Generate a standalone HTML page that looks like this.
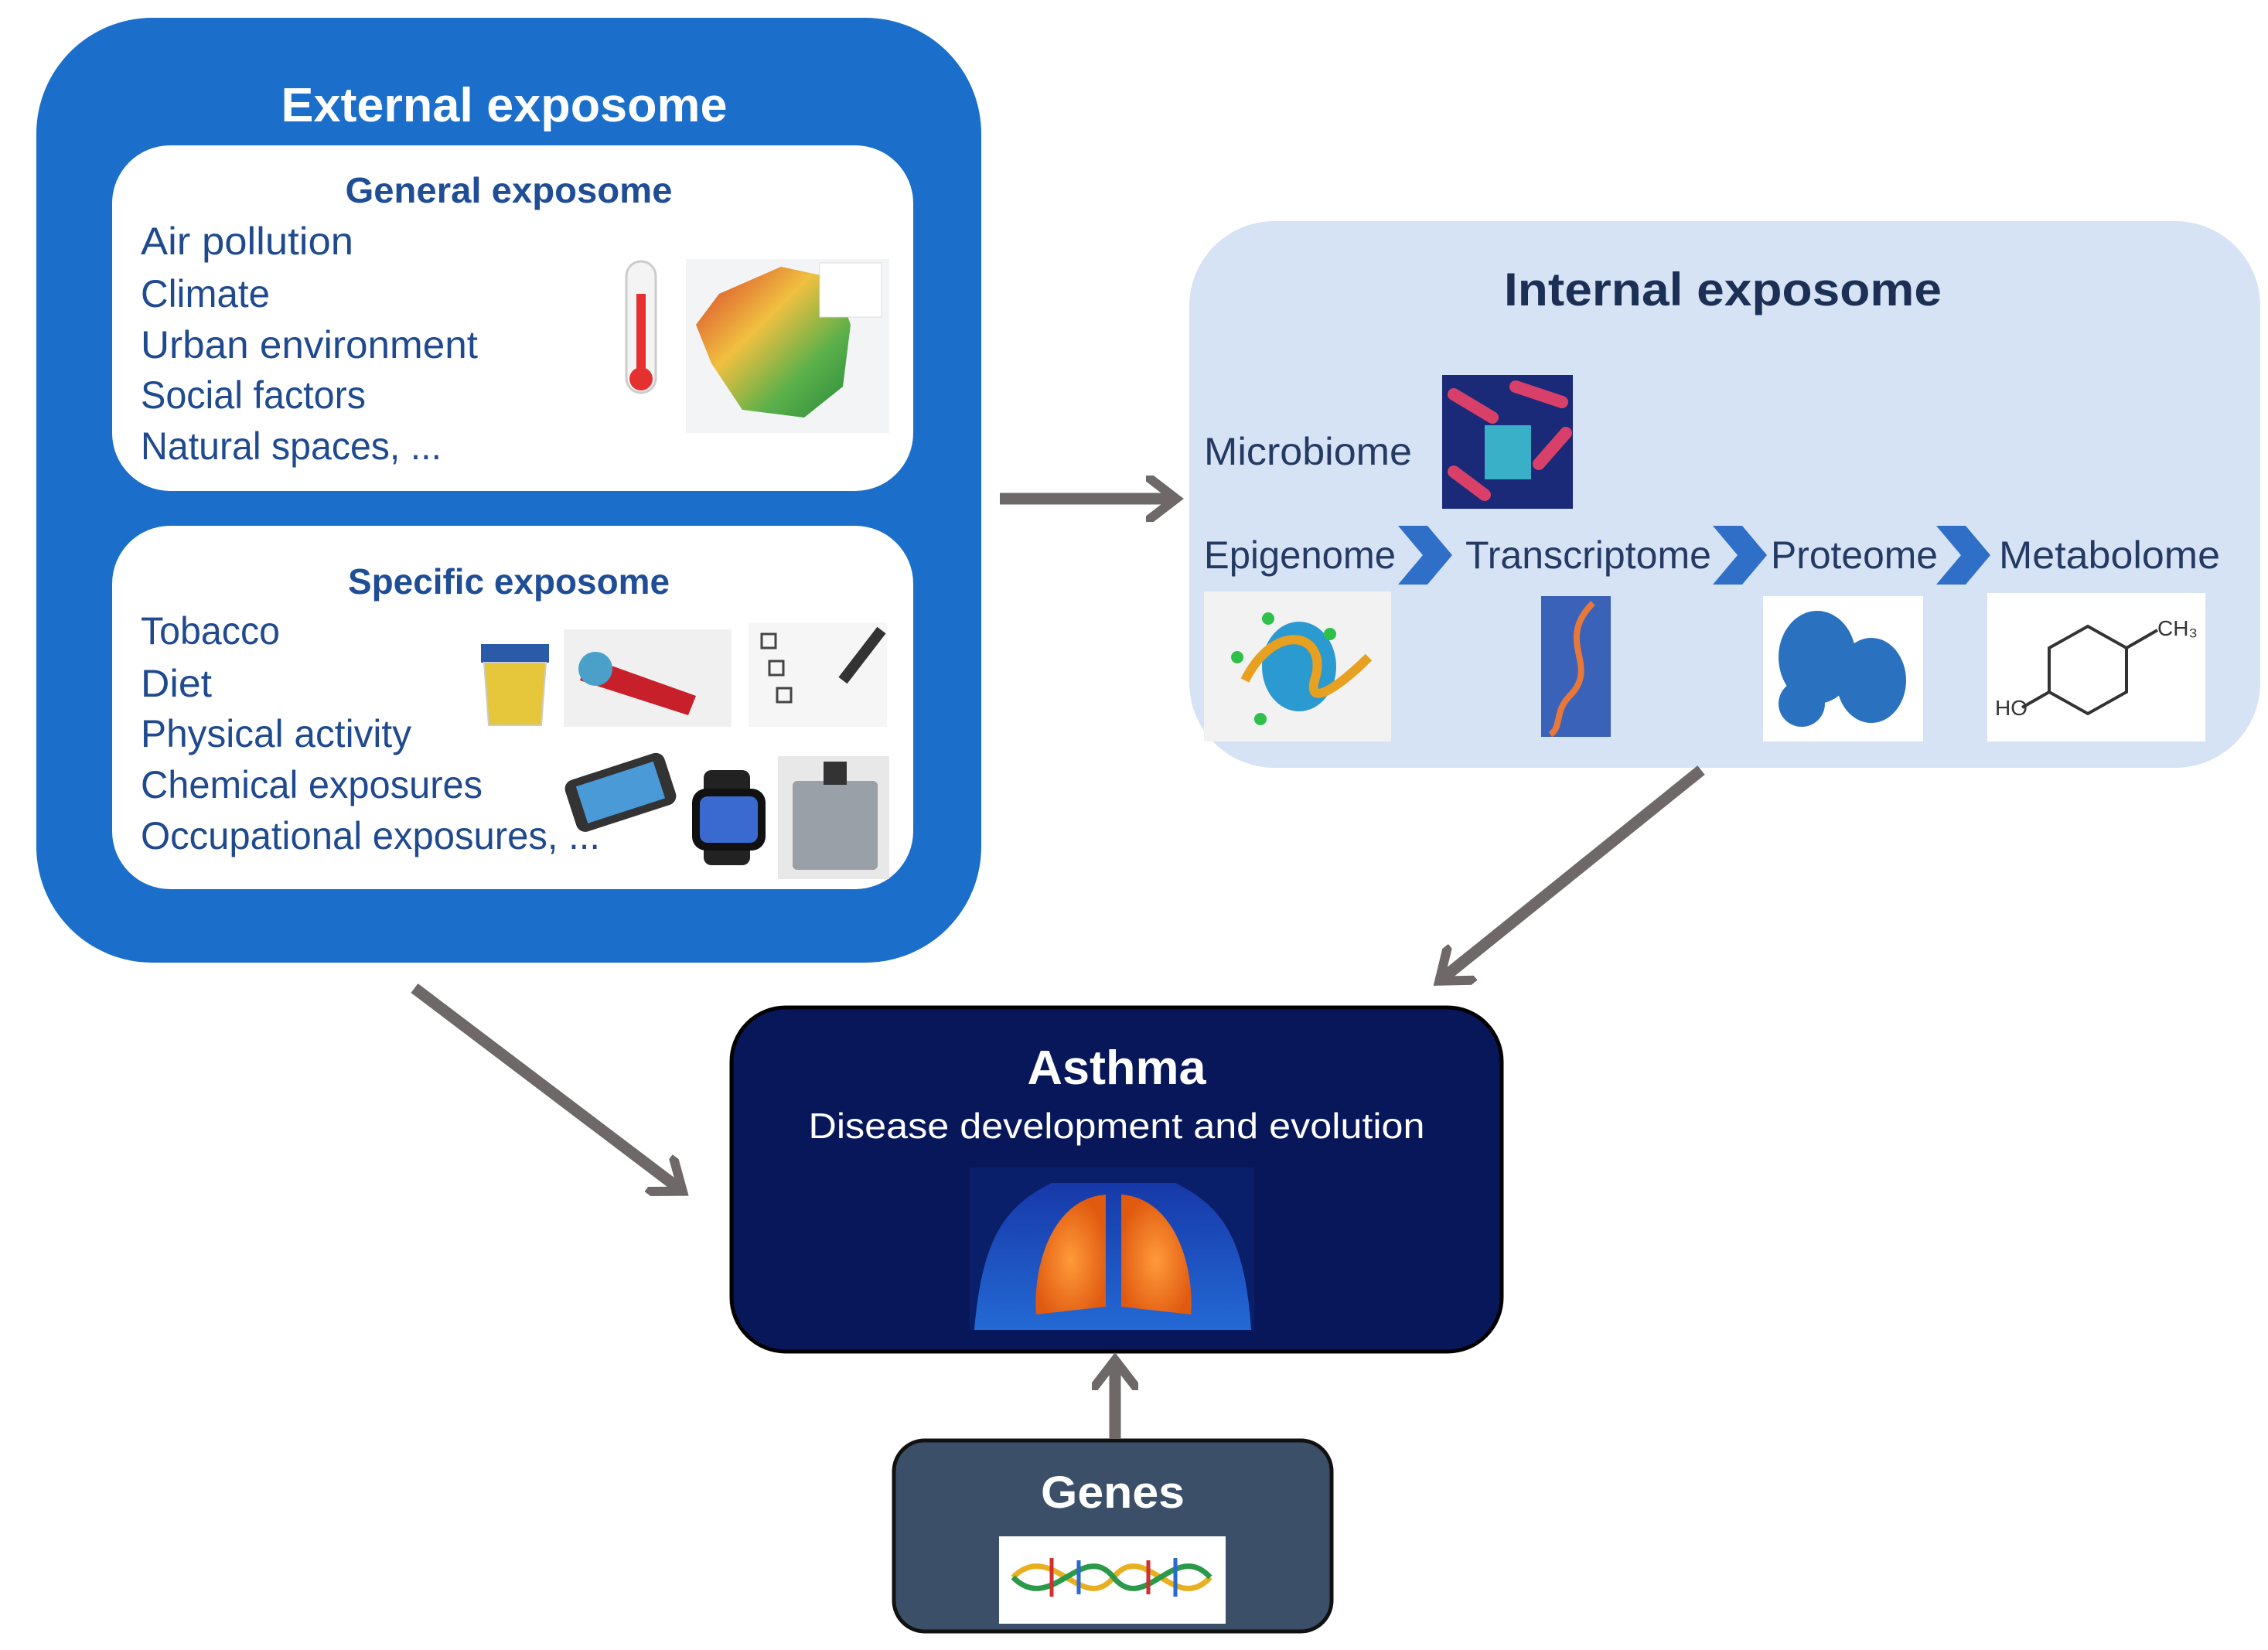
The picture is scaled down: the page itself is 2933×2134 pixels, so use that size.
<!DOCTYPE html>
<html><head><meta charset="utf-8"><style>
html,body{margin:0;padding:0;background:#fff;}
svg{display:block;font-family:"Liberation Sans",sans-serif;}
</style></head><body>
<svg width="2933" height="2134" viewBox="0 0 2933 2134" xmlns="http://www.w3.org/2000/svg">
<defs>
<marker id="ah" markerWidth="4" markerHeight="4" refX="2.2" refY="2" orient="auto" markerUnits="strokeWidth">
<path d="M0,0 L2.6,2 L0,4" fill="none" stroke="#6e6869" stroke-width="0.8"/>
</marker>
<radialGradient id="lung" cx="50%" cy="55%" r="55%"><stop offset="0" stop-color="#ff9a3a"/><stop offset="1" stop-color="#e05a10"/></radialGradient>
<linearGradient id="body" x1="0" y1="0" x2="0" y2="1"><stop offset="0" stop-color="#1a3fb8"/><stop offset="1" stop-color="#2a7cf0"/></linearGradient>
<linearGradient id="map" x1="0" y1="0" x2="1" y2="1"><stop offset="0" stop-color="#d83a2a"/><stop offset="0.4" stop-color="#f0c040"/><stop offset="0.7" stop-color="#5ab04a"/><stop offset="1" stop-color="#2a8a3a"/></linearGradient>
</defs>

<!-- External exposome -->
<rect x="47" y="23" width="1222" height="1222" rx="150" fill="#1b6fca"/>
<text x="652" y="157" text-anchor="middle" font-size="62" font-weight="bold" fill="#fff" textLength="577" lengthAdjust="spacingAndGlyphs">External exposome</text>

<rect x="145" y="188" width="1036" height="447" rx="75" fill="#fff"/>
<text x="658" y="262" text-anchor="middle" font-size="46" font-weight="bold" fill="#1f4e96" textLength="423" lengthAdjust="spacingAndGlyphs">General exposome</text>
<g font-size="50" fill="#1f4a8f">
<text x="182" y="329" textLength="275" lengthAdjust="spacingAndGlyphs">Air pollution</text>
<text x="182" y="397" textLength="167" lengthAdjust="spacingAndGlyphs">Climate</text>
<text x="182" y="463" textLength="436" lengthAdjust="spacingAndGlyphs">Urban environment</text>
<text x="182" y="528" textLength="291" lengthAdjust="spacingAndGlyphs">Social factors</text>
<text x="182" y="594" textLength="389" lengthAdjust="spacingAndGlyphs">Natural spaces, ...</text>
</g>
<!-- thermometer -->
<rect x="810" y="338" width="38" height="170" rx="19" fill="#f4f4f4" stroke="#ccc" stroke-width="3"/>
<rect x="823" y="380" width="12" height="110" fill="#e53030"/>
<circle cx="829" cy="490" r="15" fill="#e53030"/>
<!-- map -->
<rect x="887" y="335" width="263" height="225" fill="#f2f4f6"/>
<path d="M930,380 L1010,345 L1080,360 L1100,420 L1090,500 L1040,540 L960,530 L920,470 L900,420 Z" fill="url(#map)"/>
<rect x="1060" y="340" width="80" height="70" fill="#fff" stroke="#ddd"/>

<rect x="145" y="680" width="1036" height="470" rx="75" fill="#fff"/>
<text x="658" y="768" text-anchor="middle" font-size="46" font-weight="bold" fill="#1f4e96" textLength="416" lengthAdjust="spacingAndGlyphs">Specific exposome</text>
<g font-size="50" fill="#1f4a8f">
<text x="182" y="833" textLength="180" lengthAdjust="spacingAndGlyphs">Tobacco</text>
<text x="182" y="901" textLength="92" lengthAdjust="spacingAndGlyphs">Diet</text>
<text x="182" y="966" textLength="350" lengthAdjust="spacingAndGlyphs">Physical activity</text>
<text x="182" y="1032" textLength="442" lengthAdjust="spacingAndGlyphs">Chemical exposures</text>
<text x="182" y="1098" textLength="594" lengthAdjust="spacingAndGlyphs">Occupational exposures, ...</text>
</g>
<!-- cup -->
<rect x="622" y="833" width="88" height="24" fill="#2a5aa8"/>
<path d="M626,857 L706,857 L700,938 L632,938 Z" fill="#e6c63a" stroke="#ccc" stroke-width="2"/>
<!-- tubes -->
<rect x="729" y="814" width="217" height="126" fill="#f0f0f0"/>
<path d="M760,850 L900,900 L890,925 L750,880 Z" fill="#c8202a"/>
<circle cx="770" cy="865" r="22" fill="#4aa0c8"/>
<!-- checklist -->
<rect x="968" y="805" width="179" height="135" fill="#f6f6f6"/>
<g stroke="#444" stroke-width="3" fill="none"><rect x="985" y="820" width="18" height="18"/><rect x="995" y="855" width="18" height="18"/><rect x="1005" y="890" width="18" height="18"/></g>
<path d="M1090,880 L1140,815" stroke="#333" stroke-width="14"/>
<!-- phone watch device -->
<rect x="735" y="990" width="135" height="70" rx="12" fill="#333" transform="rotate(-18 802 1025)"/>
<rect x="750" y="1000" width="105" height="50" fill="#4a9ad8" transform="rotate(-18 802 1025)"/>
<rect x="910" y="996" width="60" height="123" rx="10" fill="#222"/>
<rect x="895" y="1020" width="95" height="80" rx="18" fill="#111"/>
<rect x="905" y="1030" width="75" height="60" rx="10" fill="#3a6ad0"/>
<rect x="1006" y="978" width="144" height="159" fill="#e8e8e8"/>
<rect x="1025" y="1010" width="110" height="115" rx="6" fill="#9aa0a8"/>
<rect x="1065" y="985" width="30" height="30" fill="#333"/>

<!-- Internal exposome -->
<rect x="1538" y="286" width="1385" height="707" rx="110" fill="#d6e3f5"/>
<text x="2228" y="395" text-anchor="middle" font-size="60" font-weight="bold" fill="#1c2f55" textLength="566" lengthAdjust="spacingAndGlyphs">Internal exposome</text>
<g font-size="50" fill="#243a63">
<text x="1557" y="601" textLength="269" lengthAdjust="spacingAndGlyphs">Microbiome</text>
<text x="1557" y="735" textLength="248" lengthAdjust="spacingAndGlyphs">Epigenome</text>
<text x="1895" y="735" textLength="318" lengthAdjust="spacingAndGlyphs">Transcriptome</text>
<text x="2290" y="735" textLength="216" lengthAdjust="spacingAndGlyphs">Proteome</text>
<text x="2585" y="735" textLength="286" lengthAdjust="spacingAndGlyphs">Metabolome</text>
</g>
<g fill="#2f6fc8">
<path d="M1808,680 L1846,680 L1878,718 L1846,756 L1808,756 L1840,718 Z"/>
<path d="M2215,680 L2253,680 L2285,718 L2253,756 L2215,756 L2247,718 Z"/>
<path d="M2504,680 L2542,680 L2574,718 L2542,756 L2504,756 L2536,718 Z"/>
</g>
<!-- microbiome img -->
<rect x="1865" y="485" width="169" height="173" fill="#1a2a78"/>
<g stroke="#d8406a" stroke-width="16" stroke-linecap="round">
<line x1="1880" y1="510" x2="1930" y2="540"/><line x1="1960" y1="500" x2="2020" y2="520"/>
<line x1="1880" y1="610" x2="1920" y2="640"/><line x1="1990" y1="600" x2="2025" y2="560"/>
</g>
<rect x="1920" y="550" width="60" height="70" fill="#3ab0c8"/>
<!-- epigenome -->
<rect x="1557" y="765" width="242" height="194" fill="#f2f2f2"/>
<ellipse cx="1680" cy="862" rx="48" ry="58" fill="#2a9ad0"/>
<path d="M1610,880 C1650,800 1720,820 1700,880 C1690,920 1740,880 1770,850" stroke="#e8a020" stroke-width="12" fill="none"/>
<g fill="#2ec04a"><circle cx="1640" cy="800" r="8"/><circle cx="1720" cy="820" r="8"/><circle cx="1630" cy="930" r="8"/><circle cx="1600" cy="850" r="8"/></g>
<!-- transcriptome -->
<rect x="1993" y="771" width="90" height="182" fill="#3a62b8"/>
<path d="M2060,780 C2010,830 2070,860 2030,900 C2010,920 2020,940 2005,950" stroke="#e8783a" stroke-width="8" fill="none"/>
<!-- proteome -->
<rect x="2280" y="771" width="207" height="188" fill="#fff"/>
<g fill="#2a72c0"><ellipse cx="2350" cy="850" rx="50" ry="60"/><ellipse cx="2420" cy="880" rx="45" ry="55"/><ellipse cx="2330" cy="910" rx="30" ry="30"/></g>
<!-- metabolome -->
<rect x="2570" y="767" width="282" height="192" fill="#fff"/>
<g stroke="#333" stroke-width="4" fill="none">
<path d="M2700,810 L2750,838 L2750,895 L2700,923 L2650,895 L2650,838 Z"/>
<line x1="2750" y1="838" x2="2790" y2="815"/><line x1="2650" y1="895" x2="2615" y2="915"/>
</g>
<text x="2790" y="822" font-size="28" fill="#333">CH₃</text>
<text x="2580" y="925" font-size="28" fill="#333">HO</text>

<!-- Asthma -->
<rect x="946" y="1303" width="996" height="445" rx="70" fill="#08175a" stroke="#000" stroke-width="5"/>
<text x="1444" y="1402" text-anchor="middle" font-size="62" font-weight="bold" fill="#fff" textLength="231" lengthAdjust="spacingAndGlyphs">Asthma</text>
<text x="1444" y="1472" text-anchor="middle" font-size="46" fill="#fff" textLength="797" lengthAdjust="spacingAndGlyphs">Disease development and evolution</text>
<rect x="1254" y="1510" width="368" height="210" fill="#0a1f6a"/>
<path d="M1260,1720 C1270,1600 1300,1560 1360,1530 L1520,1530 C1580,1560 1610,1600 1618,1720 Z" fill="url(#body)" opacity="0.8"/>
<path d="M1430,1545 C1360,1550 1335,1640 1340,1700 L1430,1690 Z" fill="url(#lung)"/>
<path d="M1450,1545 C1520,1550 1545,1640 1540,1700 L1450,1690 Z" fill="url(#lung)"/>

<!-- Genes -->
<rect x="1156" y="1863" width="566" height="247" rx="40" fill="#3b5068" stroke="#111" stroke-width="5"/>
<text x="1439" y="1950" text-anchor="middle" font-size="58" font-weight="bold" fill="#fff" textLength="186" lengthAdjust="spacingAndGlyphs">Genes</text>
<rect x="1292" y="1987" width="293" height="113" fill="#fff"/>
<path d="M1310,2040 C1360,1990 1400,2090 1440,2040 C1480,1990 1520,2090 1565,2040" stroke="#e8b020" stroke-width="7" fill="none"/>
<path d="M1310,2040 C1360,2090 1400,1990 1440,2040 C1480,2090 1520,1990 1565,2040" stroke="#2a9a4a" stroke-width="7" fill="none"/>
<g stroke-width="5"><line x1="1360" y1="2015" x2="1360" y2="2065" stroke="#d03030"/><line x1="1395" y1="2018" x2="1395" y2="2062" stroke="#2a6ad0"/><line x1="1485" y1="2018" x2="1485" y2="2062" stroke="#d03030"/><line x1="1520" y1="2015" x2="1520" y2="2065" stroke="#2a6ad0"/></g>

<!-- Arrows -->
<g stroke="#6e6869" stroke-width="15" fill="none">
<line x1="1293" y1="645" x2="1515" y2="645" marker-end="url(#ah)"/>
<line x1="536" y1="1278" x2="878" y2="1537" marker-end="url(#ah)"/>
<line x1="2200" y1="996" x2="1866" y2="1265" marker-end="url(#ah)"/>
<line x1="1442" y1="1861" x2="1442" y2="1765" marker-end="url(#ah)"/>
</g>
</svg>
</body></html>
